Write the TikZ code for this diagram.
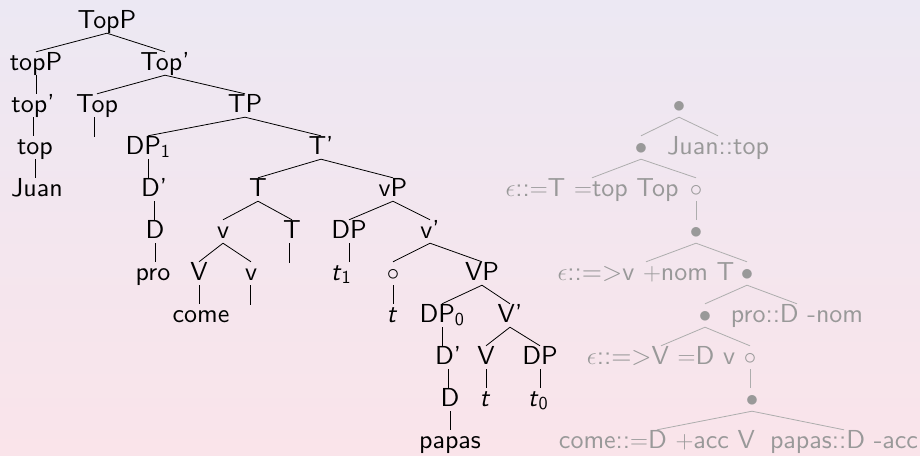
\documentclass[tikz,border=0pt]{standalone}
\usepackage{fontspec}
\setsansfont{lmsans10-regular.otf}[ItalicFont=lmsans10-oblique.otf]
\definecolor{bgtop}{RGB}{236,232,243}
\definecolor{bgbot}{RGB}{250,228,234}
\begin{document}
\begin{tikzpicture}[x=1pt,y=-1pt,
  basenode/.style={anchor=base, inner sep=0pt, text height=18pt, text depth=5pt, font=\sffamily\fontsize{26}{30}\selectfont},
  lt/.style={basenode, text=black},
  rt/.style={basenode, text=black!40},
  ledge/.style={draw=black, line width=0.8pt},
  redge/.style={draw=black!32, line width=0.8pt}]
\fill[top color=bgtop, bottom color=bgbot] (0,0) rectangle (920,455);
\useasboundingbox (0,0) rectangle (920,455);
% left tree
\node[lt] (TopP) at (107,28) {TopP};
\node[lt] (topP) at (36,70) {topP};
\node[lt] (Topb) at (165,70) {Top'};
\node[lt] (topb) at (33,112) {top'};
\node[lt] (Top) at (97,112) {Top};
\node[lt] (TP) at (245,112) {TP};
\node[lt] (top) at (35,154) {top};
\node[lt] (DPa) at (148,154) {DP\textsubscript{1}};
\node[lt] (Tb) at (321,154) {T'};
\node[lt] (Juan) at (37,196) {Juan};
\node[lt] (Dba) at (154,196) {D'};
\node[lt] (T) at (258,196) {T};
\node[lt] (vP) at (393,196) {vP};
\node[lt] (Da) at (155,238) {D};
\node[lt] (v) at (223,238) {v};
\node[lt] (Tr) at (292,238) {T};
\node[lt] (DP) at (349,238) {DP};
\node[lt] (vb) at (430,238) {v'};
\node[lt] (pro) at (153,280) {pro};
\node[lt] (V) at (199,280) {V};
\node[lt] (vr) at (251,280) {v};
\node[lt] (t1) at (341,280) {\textit{t}\textsubscript{1}};
\node[lt] (circ) at (393,280) {$\circ$};
\node[lt] (VP) at (482,280) {VP};
\node[lt] (come) at (201,322) {come};
\node[lt] (t) at (392,322) {\textit{t}};
\node[lt] (DPz) at (442,322) {DP\textsubscript{0}};
\node[lt] (Vb) at (510,322) {V'};
\node[lt] (Dbz) at (448,364) {D'};
\node[lt] (Vc) at (486,364) {V};
\node[lt] (DPr) at (540,364) {DP};
\node[lt] (Dz) at (450,406) {D};
\node[lt] (tV) at (485,406) {\textit{t}};
\node[lt] (t0) at (538,406) {\textit{t}\textsubscript{0}};
\node[lt] (papas) at (450,448) {papas};
\coordinate (eTop) at (94,137);
\coordinate (eTr) at (289,263);
\coordinate (evr) at (250,305);
% left edges
\draw[ledge] (TopP.south) -- (topP.north);
\draw[ledge] (TopP.south) -- (Topb.north);
\draw[ledge] (topP.south) -- (topP.south |- topb.north);
\draw[ledge] (topb.south) -- (topb.south |- top.north);
\draw[ledge] (top.south) -- (top.south |- Juan.north);
\draw[ledge] (Topb.south) -- (Top.north);
\draw[ledge] (Topb.south) -- (TP.north);
\draw[ledge] (Top.south -| eTop) -- (eTop);
\draw[ledge] (TP.south) -- (DPa.north);
\draw[ledge] (TP.south) -- (Tb.north);
\draw[ledge] (DPa.south) -- (DPa.south |- Dba.north);
\draw[ledge] (Dba.south) -- (Dba.south |- Da.north);
\draw[ledge] (Da.south) -- (Da.south |- pro.north);
\draw[ledge] (Tb.south) -- (T.north);
\draw[ledge] (Tb.south) -- (vP.north);
\draw[ledge] (T.south) -- (v.north);
\draw[ledge] (T.south) -- (Tr.north);
\draw[ledge] (Tr.south -| eTr) -- (eTr);
\draw[ledge] (v.south) -- (V.north);
\draw[ledge] (v.south) -- (vr.north);
\draw[ledge] (V.south) -- (V.south |- come.north);
\draw[ledge] (vr.south -| evr) -- (evr);
\draw[ledge] (vP.south) -- (DP.north);
\draw[ledge] (vP.south) -- (vb.north);
\draw[ledge] (DP.south) -- (DP.south |- t1.north);
\draw[ledge] (vb.south) -- (circ.north);
\draw[ledge] (vb.south) -- (VP.north);
\draw[ledge] (circ.south) -- (circ.south |- t.north);
\draw[ledge] (VP.south) -- (DPz.north);
\draw[ledge] (VP.south) -- (Vb.north);
\draw[ledge] (DPz.south) -- (DPz.south |- Dbz.north);
\draw[ledge] (Dbz.south) -- (Dbz.south |- Dz.north);
\draw[ledge] (Dz.south) -- (Dz.south |- papas.north);
\draw[ledge] (Vb.south) -- (Vc.north);
\draw[ledge] (Vb.south) -- (DPr.north);
\draw[ledge] (Vc.south) -- (Vc.south |- tV.north);
\draw[ledge] (DPr.south) -- (DPr.south |- t0.north);
% right tree
\node[rt] (r1) at (679,112) {$\bullet$};
\node[rt] (r2) at (641,154) {$\bullet$};
\node[rt] (rJuan) at (718,154) {Juan::top};
\node[rt] (rTop) at (592,196) {$\epsilon$::$=$T $=$top Top};
\node[rt] (rc1) at (696,196) {$\circ$};
\node[rt] (r3) at (696,238) {$\bullet$};
\node[rt] (rT) at (646,280) {$\epsilon$::=>v $+$nom T};
\node[rt] (r4) at (747,280) {$\bullet$};
\node[rt] (r5) at (705,322) {$\bullet$};
\node[rt] (rpro) at (797,322) {pro::D -nom};
\node[rt] (rv) at (661,364) {$\epsilon$::=>V $=$D v};
\node[rt] (rc2) at (750,364) {$\circ$};
\node[rt] (r6) at (752,406) {$\bullet$};
\node[rt] (rcome) at (657,448) {come::$=$D $+$acc V};
\node[rt] (rpapas) at (844,448) {papas::D -acc};
\draw[redge] (r1.south) -- (r2.north);
\draw[redge] (r1.south) -- (rJuan.north);
\draw[redge] (r2.south) -- (rTop.north);
\draw[redge] (r2.south) -- (rc1.north);
\draw[redge] (rc1.south) -- (rc1.south |- r3.north);
\draw[redge] (r3.south) -- (rT.north);
\draw[redge] (r3.south) -- (r4.north);
\draw[redge] (r4.south) -- (r5.north);
\draw[redge] (r4.south) -- (rpro.north);
\draw[redge] (r5.south) -- (rv.north);
\draw[redge] (r5.south) -- (rc2.north);
\draw[redge] (rc2.south) -- (rc2.south |- r6.north);
\draw[redge] (r6.south) -- (rcome.north);
\draw[redge] (r6.south) -- (rpapas.north);
\end{tikzpicture}
\end{document}
